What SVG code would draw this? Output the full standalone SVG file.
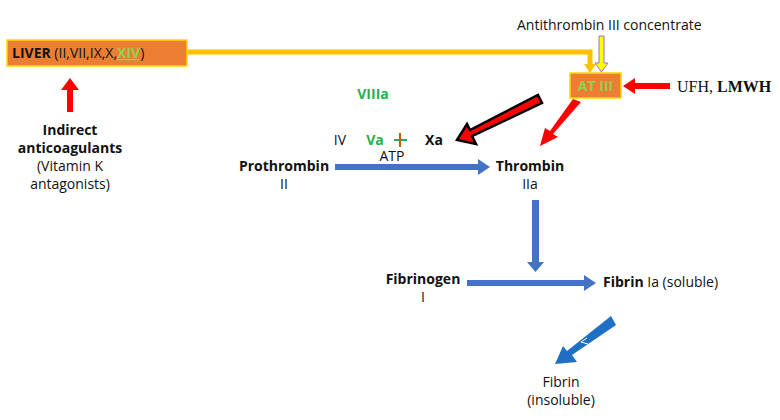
<svg xmlns="http://www.w3.org/2000/svg" width="780" height="420" viewBox="0 0 780 420">
<style>
text{font-family:"Open Sans","Liberation Sans",sans-serif;font-size:14px;fill:#111}
.b{font-weight:bold}
.g{font-weight:bold;fill:#22B14C}
.m{text-anchor:middle}
.blue{fill:#4472C4}
</style>
<rect width="780" height="420" fill="#fff"/>
<g id="connectors">
<polyline points="187,52 590,52 590,66" fill="none" stroke="#FFC000" stroke-width="5"/>
<polygon points="584,64 596,64 590,73" fill="#FFC000"/>
<polygon points="599,36 604,36 604,63 608,63 601.5,72 595,63 599,63" fill="#FFFF00" stroke="#A070C0" stroke-width="1"/>
<polygon points="670,83 635,83 635,78 623,86 635,94 635,89 670,89" fill="#FF0000"/>
<polygon points="67,112 73,112 73,90 79,90 70,78 61,90 67,90" fill="#FF0000"/>
<polygon points="538,95 542,103 472,136 476,144 457,140 467,124 470,130" fill="#FF0000" stroke="#000" stroke-width="2.5"/>
<polygon points="573,99 581,102 553,134 558,137 540,146 545,128 550,131" fill="#FF0000"/>
<polygon points="335,164 478,164 478,159 490,167 478,175 478,170 335,170" class="blue"/>
<polygon points="532,200 539,200 539,262 544,262 535.5,272 527,262 532,262" class="blue"/>
<polygon points="467,280 584,280 584,275 596,283 584,291 584,286 467,286" class="blue"/>
<polygon points="611,316 616,325 572,355 577,362 555,364 563,346 567,351" fill="#1F6FC4"/>
<path d="M587,338 l-6,4 l7,2" fill="none" stroke="#fff" stroke-width="1"/>
<line x1="394" y1="140" x2="407" y2="140" stroke="#22B14C" stroke-width="2"/>
<line x1="400" y1="133" x2="400" y2="147" stroke="#C55A11" stroke-width="2"/>
</g>
<g id="liver">
<rect x="7" y="40" width="180" height="26" fill="#ED7D31" stroke="#FFD700" stroke-width="1.5"/>
<text x="12" y="58"><tspan class="b">LIVER</tspan> (II,VII,IX,X,<tspan class="b" fill="#92D050" text-decoration="underline">XIV</tspan>)</text>
</g>
<g id="at3">
<rect x="570" y="73" width="51" height="25" fill="#ED7D31" stroke="#FFD700" stroke-width="1.5"/>
<text x="595.5" y="91" class="m b" style="fill:#92D050">AT III</text>
</g>
<g id="labels">
<text x="517" y="30">Antithrombin III concentrate</text>
<text x="677" y="92" style="font-family:'Liberation Serif',serif;font-size:16px">UFH, <tspan font-weight="bold">LMWH</tspan></text>
<text x="70" y="135" class="m b">Indirect</text>
<text x="70" y="153" class="m b">anticoagulants</text>
<text x="70" y="171" class="m">(Vitamin K</text>
<text x="70" y="189" class="m">antagonists)</text>
<text x="373" y="99" class="m g">VIIIa</text>
<text x="340" y="145" class="m">IV</text>
<text x="375" y="145" class="m g">Va</text>
<text x="434" y="145" class="m b">Xa</text>
<text x="392" y="161" class="m">ATP</text>
<text x="284" y="171" class="m b">Prothrombin</text>
<text x="284" y="189" class="m">II</text>
<text x="530" y="171" class="m b">Thrombin</text>
<text x="530" y="189" class="m">IIa</text>
<text x="423" y="284" class="m b">Fibrinogen</text>
<text x="423" y="302" class="m">I</text>
<text x="603" y="287"><tspan class="b">Fibrin</tspan> Ia (soluble)</text>
<text x="561" y="387" class="m">Fibrin</text>
<text x="561" y="405" class="m">(insoluble)</text>
</g>
</svg>
